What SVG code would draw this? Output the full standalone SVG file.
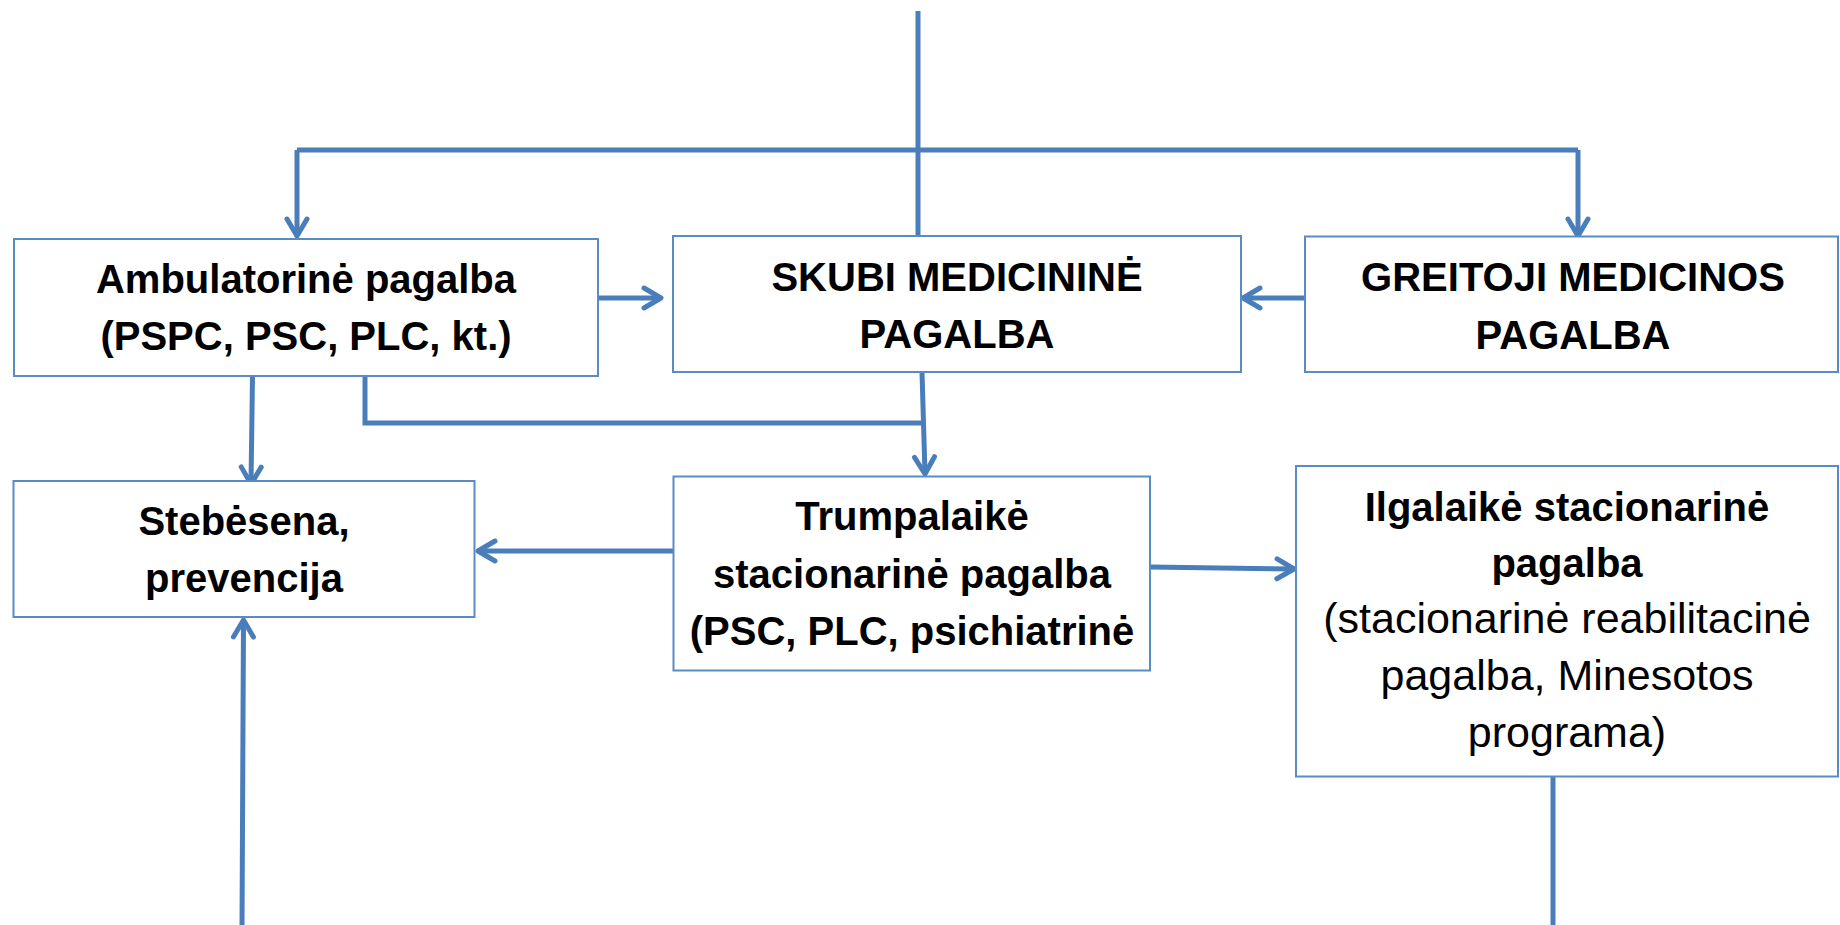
<svg xmlns="http://www.w3.org/2000/svg" width="1840" height="925" viewBox="0 0 1840 925">
<style>
.box{fill:#ffffff;stroke:#5b8bc7;stroke-width:2}
.b{font-family:"Liberation Sans",Arial,sans-serif;font-weight:bold;font-size:40px;fill:#000;text-anchor:middle}
.r{font-family:"Liberation Sans",Arial,sans-serif;font-size:43px;fill:#000;text-anchor:middle}
.c{fill:none;stroke:#4a7ebb;stroke-width:5;stroke-linejoin:miter}
</style>
<defs>
<marker id="ah" markerUnits="userSpaceOnUse" markerWidth="40" markerHeight="40" refX="0" refY="0" orient="auto" overflow="visible">
<path d="M-17,-10 L0,0 L-17,10" fill="none" stroke="#4a7ebb" stroke-width="5" stroke-linecap="round" stroke-linejoin="round"/>
</marker>
</defs>
<rect width="1840" height="925" fill="#ffffff"/>
<g id="connectors">
<path class="c" d="M918,11 V236"/>
<path class="c" d="M297,150 H1578"/>
<path class="c" d="M297,150 V236" marker-end="url(#ah)"/>
<path class="c" d="M1578,150 V236" marker-end="url(#ah)"/>
<path class="c" d="M599,298 H661" marker-end="url(#ah)"/>
<path class="c" d="M1305,298 H1243" marker-end="url(#ah)"/>
<path class="c" d="M252.5,376 L251,484" marker-end="url(#ah)"/>
<path class="c" d="M365,376 V423 H923"/>
<path class="c" d="M922,372 L925,474" marker-end="url(#ah)"/>
<path class="c" d="M673,551 H478" marker-end="url(#ah)"/>
<path class="c" d="M1150,567 L1294,569" marker-end="url(#ah)"/>
<path class="c" d="M1553,777 V927.7 H242 L243.5,620" marker-end="url(#ah)"/>
</g>
<g id="ambulatorine">
<rect class="box" x="14" y="239" width="584" height="137"/>
<text class="b" x="306" y="293">Ambulatorinė pagalba</text>
<text class="b" x="306" y="350">(PSPC, PSC, PLC, kt.)</text>
</g>
<g id="skubi">
<rect class="box" x="673" y="236" width="568" height="136"/>
<text class="b" x="957" y="291">SKUBI MEDICININĖ</text>
<text class="b" x="957" y="348">PAGALBA</text>
</g>
<g id="greitoji">
<rect class="box" x="1305" y="236.5" width="533" height="135.5"/>
<text class="b" x="1573" y="291">GREITOJI MEDICINOS</text>
<text class="b" x="1573" y="349">PAGALBA</text>
</g>
<g id="stebesena">
<rect class="box" x="13.5" y="481" width="461" height="136"/>
<text class="b" x="244" y="535">Stebėsena,</text>
<text class="b" x="244" y="592">prevencija</text>
</g>
<g id="trumpalaike">
<rect class="box" x="673.5" y="476.5" width="476.5" height="194"/>
<text class="b" x="912" y="530">Trumpalaikė</text>
<text class="b" x="912" y="588">stacionarinė pagalba</text>
<text class="b" x="912" y="645">(PSC, PLC, psichiatrinė</text>
</g>
<g id="ilgalaike">
<rect class="box" x="1296" y="466" width="542" height="310.5"/>
<text class="b" x="1567" y="521">Ilgalaikė stacionarinė</text>
<text class="b" x="1567" y="577">pagalba</text>
<text class="r" x="1567" y="633">(stacionarinė reabilitacinė</text>
<text class="r" x="1567" y="690">pagalba, Minesotos</text>
<text class="r" x="1567" y="747">programa)</text>
</g>
</svg>
